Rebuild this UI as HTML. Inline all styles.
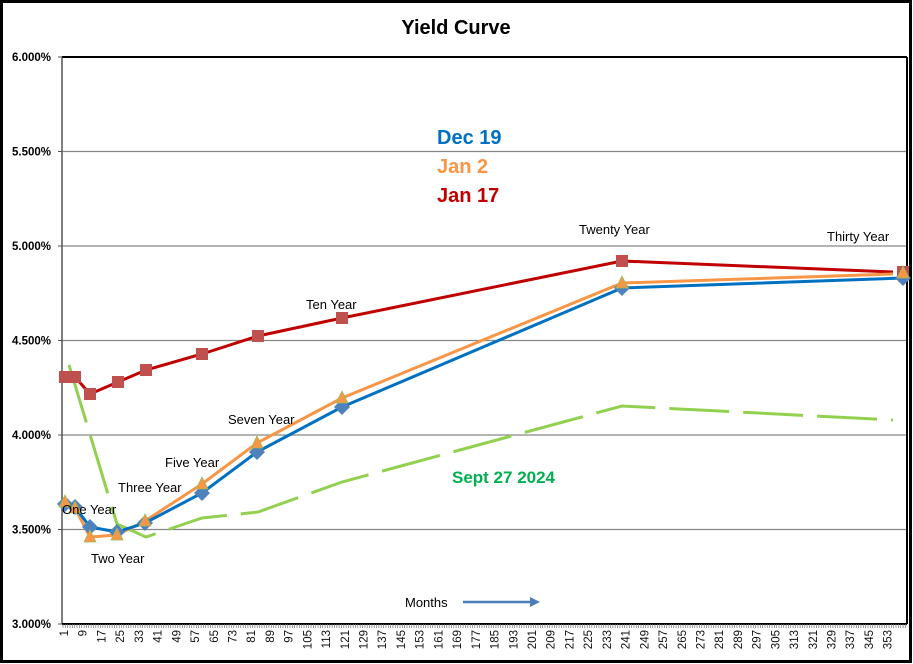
<!DOCTYPE html>
<html><head><meta charset="utf-8"><style>
html,body{margin:0;padding:0;background:#fff}
svg{display:block;font-family:"Liberation Sans",Arial,sans-serif}
</style></head><body>
<svg width="913" height="664" viewBox="0 0 913 664" xmlns="http://www.w3.org/2000/svg">
<rect x="1.5" y="1.5" width="909" height="660" fill="#fff" stroke="#000" stroke-width="3"/>
<text x="456" y="34" text-anchor="middle" font-size="20" font-weight="bold">Yield Curve</text>
<g stroke="#868686" stroke-width="1.3">
<line x1="62" y1="151.5" x2="907" y2="151.5"/>
<line x1="62" y1="246" x2="907" y2="246"/>
<line x1="62" y1="340.5" x2="907" y2="340.5"/>
<line x1="62" y1="435" x2="907" y2="435"/>
<line x1="62" y1="529.5" x2="907" y2="529.5"/>
</g>
<line x1="62" y1="57" x2="907" y2="57" stroke="#000" stroke-width="2"/>
<line x1="907" y1="57" x2="907" y2="624" stroke="#000" stroke-width="2"/>
<line x1="62" y1="57" x2="62" y2="624" stroke="#555" stroke-width="1.5"/>
<line x1="62" y1="624" x2="907" y2="624" stroke="#000" stroke-width="2"/>
<g stroke="#555" stroke-width="1">
<line x1="58" y1="57" x2="62" y2="57"/><line x1="58" y1="151.5" x2="62" y2="151.5"/><line x1="58" y1="246" x2="62" y2="246"/><line x1="58" y1="340.5" x2="62" y2="340.5"/><line x1="58" y1="435" x2="62" y2="435"/><line x1="58" y1="529.5" x2="62" y2="529.5"/><line x1="58" y1="624" x2="62" y2="624"/>
</g>
<g font-size="11.5" font-weight="bold" text-anchor="end">
<text x="51" y="61">6.000%</text><text x="51" y="155.5">5.500%</text><text x="51" y="250">5.000%</text><text x="51" y="344.5">4.500%</text><text x="51" y="439">4.000%</text><text x="51" y="533.5">3.500%</text><text x="51" y="628">3.000%</text>
</g>
<path id="ticks" stroke="#777" stroke-width="0.7" fill="none" d=""/>
<g id="xl" font-size="11.5" fill="#111"></g>
<polyline fill="none" stroke="#92d050" stroke-width="3" stroke-dasharray="60,14" points="69,365 117,524 146,537 202,518 258,512 342,482 622,406 893,420"/>
<polyline fill="none" stroke="#c00000" stroke-width="3" points="65,377 75,377 90,394 118,382 146,370 202,354 258,336 342,318 622,261 893,272"/>
<polyline fill="none" stroke="#f79646" stroke-width="3" points="65,502 75,508 90,537 117,535 145,521 202,484 257,443 342,398 622,283 893,274"/>
<polyline fill="none" stroke="#0070c0" stroke-width="3" points="65,504 75,507 90,527 117,532 145,523 202,493 257,452 342,407 622,288 903,278"/>
<g fill="#c0504d" id="sq"></g>
<g fill="#4f81bd" id="dm"></g>
<g fill="#f79646" stroke="#9bbb59" stroke-width="0.8" id="tr"></g>
<g font-size="13" fill="#000">
<text x="579" y="234">Twenty Year</text>
<text x="827" y="241">Thirty Year</text>
<text x="306" y="309">Ten Year</text>
<text x="228" y="424">Seven Year</text>
<text x="165" y="467">Five Year</text>
<text x="118" y="492">Three Year</text>
<text x="62" y="514">One Year</text>
<text x="91" y="563">Two Year</text>
<text x="405" y="607">Months</text>
</g>
<line x1="463" y1="602" x2="532" y2="602" stroke="#4a7ebb" stroke-width="2.5"/>
<polygon points="540,602 530,597 530,607" fill="#4a7ebb"/>
<g font-size="20" font-weight="bold">
<text x="437" y="144" fill="#0070c0">Dec 19</text>
<text x="437" y="173" fill="#f79646">Jan 2</text>
<text x="437" y="202" fill="#c00000">Jan 17</text>
</g>
<text x="452" y="483" font-size="17" font-weight="bold" fill="#00b050">Sept 27 2024</text>
<script>
var ns="http://www.w3.org/2000/svg";
var d="";for(var m=1;m<=361;m++){var x=63+(m-1)*2.34;d+="M"+x.toFixed(1)+" 624V628";}
document.getElementById("ticks").setAttribute("d",d);
var g=document.getElementById("xl");
for(var m=1;m<=353;m+=8){var x=64+(m-1)*2.34+4;var t=document.createElementNS(ns,"text");
t.setAttribute("transform","translate("+x.toFixed(1)+",630) rotate(-90)");t.setAttribute("text-anchor","end");t.textContent=m;g.appendChild(t);}
var sq=[[65,377],[75,377],[90,394],[118,382],[146,370],[202,354],[258,336],[342,318],[622,261],[903,272]];
sq.forEach(function(p){var r=document.createElementNS(ns,"rect");r.setAttribute("x",p[0]-6);r.setAttribute("y",p[1]-6);r.setAttribute("width",12);r.setAttribute("height",12);document.getElementById("sq").appendChild(r);});
var dm=[[65,504],[75,507],[90,527],[117,532],[145,523],[202,493],[257,452],[342,407],[622,288],[903,278]];
dm.forEach(function(p){var r=document.createElementNS(ns,"polygon");r.setAttribute("points",(p[0]-8)+","+p[1]+" "+p[0]+","+(p[1]-8)+" "+(p[0]+8)+","+p[1]+" "+p[0]+","+(p[1]+8));document.getElementById("dm").appendChild(r);});
var tr=[[65,502],[75,508],[90,537],[117,535],[145,521],[202,484],[257,443],[342,398],[622,283],[903,273]];
tr.forEach(function(p){var r=document.createElementNS(ns,"polygon");r.setAttribute("points",(p[0]-6)+","+(p[1]+5)+" "+p[0]+","+(p[1]-7)+" "+(p[0]+6)+","+(p[1]+5));document.getElementById("tr").appendChild(r);});
</script>
</svg>
</body></html>
